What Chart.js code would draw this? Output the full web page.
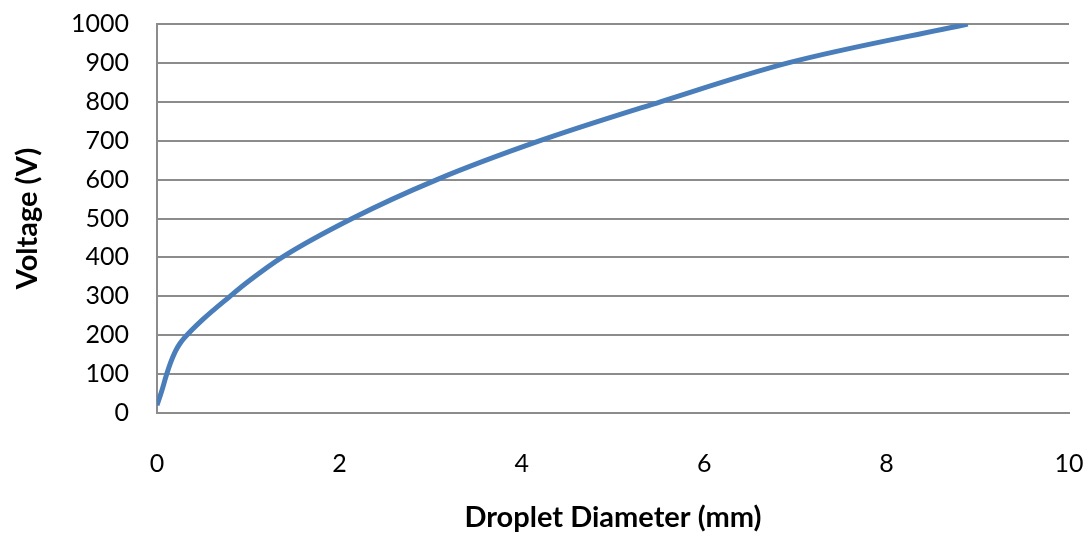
<!DOCTYPE html>
<html>
<head>
<meta charset="utf-8">
<script src="https://cdn.jsdelivr.net/npm/chart.js@4"></script>
<style>
  html, body { margin: 0; padding: 0; background: #fff; }
  #wrap { width: 1089px; height: 535px; }
</style>
</head>
<body>
<div id="wrap"><canvas id="chart" width="1089" height="535"></canvas></div>
<script>
// values
const diameters = [0, 0.05, 0.1, 0.15, 0.2, 0.25, 0.3, 0.5, 0.8, 1.0, 1.37, 2.14, 3.07, 4.2, 5.52, 6.92, 8.89];
const voltages  = [20, 55, 95, 130, 158, 178, 193, 240, 300, 338, 400, 500, 600, 700, 800, 900, 1000];
const xTitle = "Droplet Diameter (mm)";
const yTitle = "Voltage (V)";

const font = "Lato, 'Open Sans', sans-serif";
const gridColor = "#8c8c8c";

// drop the label overhang padding so the plot area sits where the reference has it
function noPad(s) {
  s.paddingLeft = 0;
  s.paddingRight = 0;
  s.paddingTop = 0;
  s.paddingBottom = 0;
}

const ctx = document.getElementById("chart").getContext("2d");
new Chart(ctx, {
  type: "scatter",
  data: {
    datasets: [{
      label: yTitle,
      data: diameters.map((d, i) => ({ x: d, y: voltages[i] })),
      showLine: true,
      borderColor: "#4a7ebb",
      borderWidth: 5,
      cubicInterpolationMode: "monotone",
      pointRadius: 0,
      fill: false,
    }],
  },
  options: {
    responsive: false,
    animation: false,
    layout: { padding: { top: 24, right: 20, left: 0, bottom: 0 } },
    plugins: { legend: { display: false }, tooltip: { enabled: false } },
    scales: {
      x: {
        type: "linear",
        min: 0,
        max: 10,
        ticks: { stepSize: 2, padding: 36, color: "#000", font: { family: font, size: 25 } },
        grid: { display: false, drawTicks: false },
        border: { color: gridColor, width: 2 },
        title: { display: true, text: xTitle, color: "#000", padding: { top: 0, bottom: 0 },
                 font: { family: font, size: 29, weight: "bold" } },
        afterFit: (s) => { s.height = 122; noPad(s); },
      },
      y: {
        min: 0,
        max: 1000,
        ticks: { stepSize: 100, padding: 28, color: "#000", font: { family: font, size: 25 },
                 callback: (v) => String(v) },
        grid: { color: gridColor, lineWidth: 2, drawTicks: false },
        border: { color: gridColor, width: 2 },
        title: { display: true, text: yTitle, color: "#000", padding: { top: 10, bottom: 0 },
                 font: { family: font, size: 29, weight: "bold" } },
        afterFit: (s) => { s.width = 157; noPad(s); },
      },
    },
  },
});
</script>
</body>
</html>
